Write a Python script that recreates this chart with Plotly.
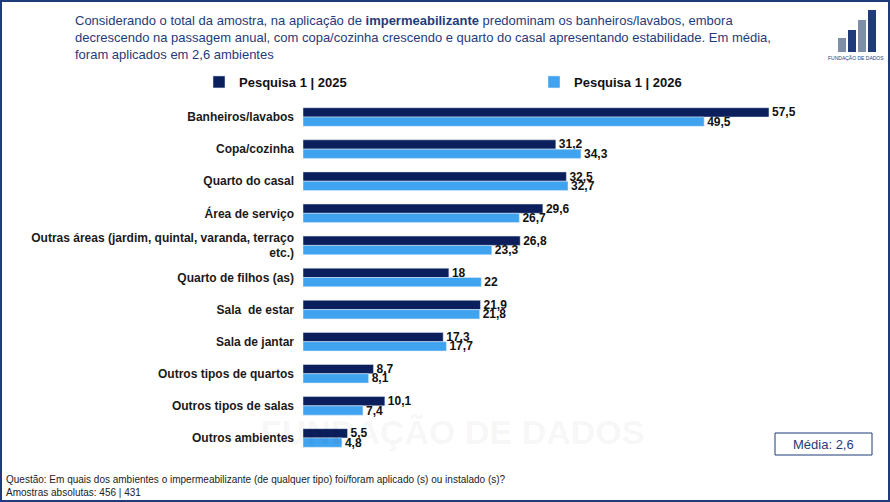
import plotly.graph_objects as go

categories = ["Banheiros/lavabos", "Copa/cozinha", "Quarto do casal", "Área de serviço",
              "Outras áreas (jardim, quintal, varanda, terraço<br>etc.)", "Quarto de filhos (as)",
              "Sala  de estar", "Sala de jantar", "Outros tipos de quartos", "Outros tipos de salas",
              "Outros ambientes"]
v2025 = [57.5, 31.2, 32.5, 29.6, 26.8, 18, 21.9, 17.3, 8.7, 10.1, 5.5]
v2026 = [49.5, 34.3, 32.7, 26.7, 23.3, 22, 21.8, 17.7, 8.1, 7.4, 4.8]

def fmt(v):
    return (f"{v:g}").replace(".", ",")

L, R, T, B = 303, 880, 101, 454
def px(x): return (x - L) / (R - L)
def py(y): return (B - y) / (B - T)

fig = go.Figure()
for name, vals, col in [("Pesquisa 1 | 2025", v2025, "#0A1F5C"), ("Pesquisa 1 | 2026", v2026, "#3FA3F0")]:
    fig.add_bar(y=categories, x=vals, name=name, orientation="h", marker_color=col,
                text=[fmt(v) for v in vals], textposition="outside", constraintext="none",
                textfont=dict(size=12, color="#111", family="Arial", weight="bold"), cliponaxis=False)

fig.update_layout(
    width=890, height=502, barmode="group", bargap=0.42, bargroupgap=0,
    margin=dict(l=L, r=890 - R, t=T, b=502 - B, autoexpand=False),
    plot_bgcolor="white", paper_bgcolor="white",
    font=dict(family="Arial, Liberation Sans", color="#1a1a1a"),
    xaxis=dict(range=[0, 71.2], visible=False),
    yaxis=dict(autorange="reversed", showline=False, ticks="", ticklabelstandoff=8, automargin=False,
               tickfont=dict(size=12, color="#1a1a1a", weight="bold")),
    legend=dict(orientation="h", x=px(199), y=py(97), xanchor="left", yanchor="bottom",
                font=dict(size=13, color="#111", weight="bold"), entrywidth=290, traceorder="normal"),
)
def ann(x, y, text, size, color, xa="center", ya="middle", **kw):
    fig.add_annotation(xref="paper", yref="paper", x=px(x), y=py(y), xanchor=xa, yanchor=ya,
                       showarrow=False, font=dict(size=size, color=color, **kw), text=text, align="left")

ann(73, 11, "Considerando o total da amostra, na aplicação de <b>impermeabilizante</b> predominam os banheiros/lavabos, embora<br>"
    "decrescendo na passagem anual, com copa/cozinha crescendo e quarto do casal apresentando estabilidade. Em média,<br>"
    "foram aplicados em 2,6 ambientes", 13, "#1F3B7A", xa="left", ya="top")
ann(4, 472, "Questão: Em quais dos ambientes o impermeabilizante (de qualquer tipo) foi/foram aplicado (s) ou instalado (s)?<br>Amostras absolutas: 456 | 431",
    10, "#222", xa="left", ya="top")
ann(452, 432, "FUNDAÇÃO DE DADOS", 34, "rgba(0,0,0,0.05)", weight="bold")
fig.add_shape(type="rect", xref="paper", yref="paper", x0=px(775), x1=px(872), y0=py(455), y1=py(433),
              line=dict(color="#1F3B7A", width=1))
ann(823, 444, "Média: 2,6", 13, "#1F3B7A")
fig.add_shape(type="rect", xref="paper", yref="paper", x0=px(1), x1=px(889), y0=py(501), y1=py(1),
              line=dict(color="#1F3B7A", width=2))
for i, h in enumerate([14, 22, 32, 42]):
    fig.add_shape(type="rect", xref="paper", yref="paper", x0=px(838 + i*10), x1=px(846 + i*10),
                  y0=py(52), y1=py(52 - h), line_width=0, fillcolor="#1F3B7A" if i % 2 else "#7F8FA8")
ann(856, 58, "FUNDAÇÃO DE DADOS", 5, "#1F3B7A")
fig.write_html("out.html", post_script="document.body.style.margin='0';",
               config={"displayModeBar": False})
